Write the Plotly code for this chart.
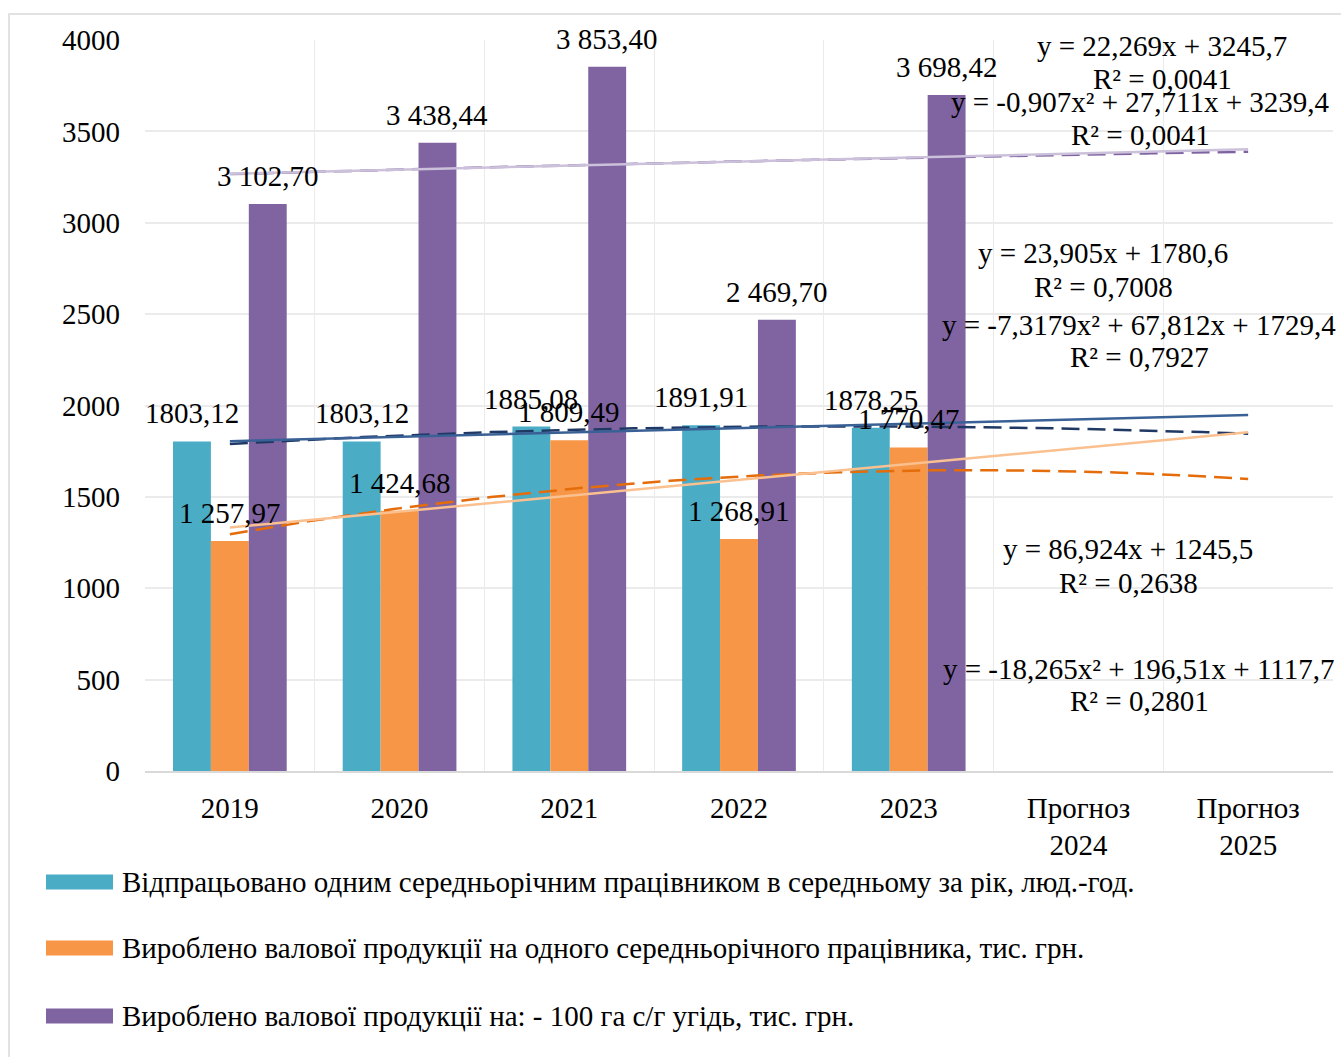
import numpy as np
import plotly.graph_objects as go

categories = ["2019", "2020", "2021", "2022", "2023", "Прогноз<br>2024", "Прогноз<br>2025"]
years_observed = 5

hours_per_worker = [1803.12, 1803.12, 1885.08, 1891.91, 1878.25]
output_per_worker = [1257.97, 1424.68, 1809.49, 1268.91, 1770.47]
output_per_100ha = [3102.70, 3438.44, 3853.40, 2469.70, 3698.42]

series_names = [
    "Відпрацьовано одним середньорічним працівником в середньому за рік, люд.-год.",
    "Вироблено валової продукції на одного середньорічного працівника, тис. грн.",
    "Вироблено валової продукції на: - 100 га с/г угідь, тис. грн.",
]
series_values = [hours_per_worker, output_per_worker, output_per_100ha]
bar_colors = ["#4BACC6", "#F79646", "#8064A2"]
label_grouping = [False, True, True]

lin_colors = ["#3A6196", "#FAC08F", "#CCC1DA"]
poly_colors = ["#203864", "#E46C0A", "#7F63A1"]

y_ticks = [0, 500, 1000, 1500, 2000, 2500, 3000, 3500, 4000]

eq_lines = [
    ("y = 22,269x + 3245,7", "R² = 0,0041"),
    ("y = -0,907x² + 27,711x + 3239,4", "R² = 0,0041"),
    ("y = 23,905x + 1780,6", "R² = 0,7008"),
    ("y = -7,3179x² + 67,812x + 1729,4", "R² = 0,7927"),
    ("y = 86,924x + 1245,5", "R² = 0,2638"),
    ("y = -18,265x² + 196,51x + 1117,7", "R² = 0,2801"),
]

FONT = "Liberation Serif, Times New Roman, serif"
FS = 29
W, H = 1341, 1057
ML, MR, MT, MB = 145, 8, 40, 286
PW, PH = W - ML - MR, H - MT - MB


def px(xp):
    return (xp - ML) / PW


def py(yp):
    return (H - MB - yp) / PH


def fmt(v, group):
    s = f"{v:,.2f}" if group else f"{v:.2f}"
    return s.replace(",", " ").replace(".", ",")


bargap = 0.33
bar_w = (1 - bargap) / 3

fig = go.Figure()
xs = list(range(years_observed))
for i, (name, vals, col) in enumerate(zip(series_names, series_values, bar_colors)):
    fig.add_trace(go.Bar(x=xs, y=vals, name=name, marker=dict(color=col, line=dict(width=0)),
                         showlegend=False, hoverinfo="y"))

# trendlines (Excel numbering x = 1..n)
xe = np.arange(1, years_observed + 1)
xf = np.linspace(1, len(categories), 200)
for i, vals in enumerate(series_values):
    c1 = np.polyfit(xe, vals, 1)
    c2 = np.polyfit(xe, vals, 2)
    fig.add_trace(go.Scatter(x=xf - 1, y=np.polyval(c2, xf), mode="lines",
                             line=dict(color=poly_colors[i], width=2.5, dash="18px,8px"),
                             showlegend=False, hoverinfo="skip"))
    fig.add_trace(go.Scatter(x=xf - 1, y=np.polyval(c1, xf), mode="lines",
                             line=dict(color=lin_colors[i], width=2.5),
                             showlegend=False, hoverinfo="skip"))

annotations = []
# data labels
for i, vals in enumerate(series_values):
    for j, v in enumerate(vals):
        annotations.append(dict(x=j + (i - 1) * bar_w, y=v, xref="x", yref="y",
                                text=fmt(v, label_grouping[i]), showarrow=False,
                                yanchor="bottom", yshift=10,
                                font=dict(family=FONT, size=FS, color="black")))

# equation labels
eq_pos = [(1162, 46, 79), (1140, 102, 135), (1103, 253, 287), (1139, 325, 357),
          (1128, 549, 583), (1139, 669, 701)]
for (eq, r2), (cx, y1, y2) in zip(eq_lines, eq_pos):
    annotations.append(dict(x=px(cx), y=py(y1), xref="paper", yref="paper", text=eq,
                            showarrow=False, xanchor="center", yanchor="middle",
                            font=dict(family=FONT, size=FS, color="black")))
    annotations.append(dict(x=px(cx), y=py(y2), xref="paper", yref="paper", text=r2,
                            showarrow=False, xanchor="center", yanchor="middle",
                            font=dict(family=FONT, size=FS, color="black")))

shapes = []
# legend
leg_y = [882, 948, 1016]
for name, col, ly in zip(series_names, bar_colors, leg_y):
    shapes.append(dict(type="rect", xref="paper", yref="paper", x0=px(46), x1=px(113),
                       y0=py(ly + 7.5), y1=py(ly - 7.5), fillcolor=col, line=dict(width=0)))
    annotations.append(dict(x=px(120), y=py(ly), xref="paper", yref="paper", text=name,
                            showarrow=False, xanchor="left", yanchor="middle",
                            font=dict(family=FONT, size=FS, color="black")))

# outer chart border
shapes.append(dict(type="rect", xref="paper", yref="paper", x0=px(9), x1=px(1345),
                   y0=py(1062), y1=py(14), line=dict(color="#D9D9D9", width=1.5),
                   fillcolor="rgba(0,0,0,0)", layer="below"))

fig.update_layout(
    width=W, height=H,
    margin=dict(l=ML, r=MR, t=MT, b=MB, autoexpand=False),
    paper_bgcolor="white", plot_bgcolor="white",
    barmode="group", bargap=bargap, bargroupgap=0,
    font=dict(family=FONT, size=FS, color="black"),
    annotations=annotations, shapes=shapes,
    showlegend=False,
    xaxis=dict(range=[-0.5, len(categories) - 0.5], tickmode="array",
               tickvals=list(range(len(categories))), ticktext=categories,
               showgrid=False, zeroline=False, showline=True, linecolor="#D9D9D9",
               linewidth=1.5, ticks="", ticklabelstandoff=10,
               tickfont=dict(family=FONT, size=FS, color="black"),
               minor=dict(tickmode="linear", tick0=-0.5, dtick=1, showgrid=True,
                          gridcolor="#EBEBEB", gridwidth=1.2, ticks="")),
    yaxis=dict(range=[0, 4000], tickmode="array", tickvals=y_ticks,
               showgrid=True, gridcolor="#EBEBEB", gridwidth=1.5, zeroline=False,
               showline=False, ticks="", ticklabelstandoff=24,
               tickfont=dict(family=FONT, size=FS, color="black")),
)

fig.write_html("out.html")
